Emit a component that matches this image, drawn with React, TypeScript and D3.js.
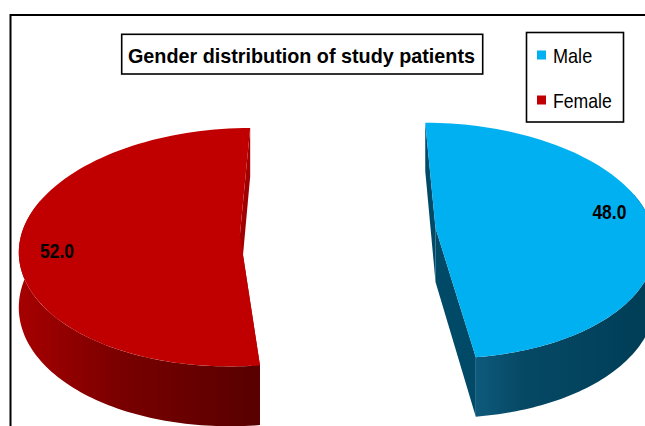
import React from 'react';
import * as d3 from 'd3';

// chart data
const categories = ['Male', 'Female'];
const values = [48.0, 52.0];
const colors = ['#00B0F0', '#C00000'];
const sideLight = ['#0E5A7C', '#A60000'];
const sideDark = ['#003D56', '#580000'];
const edgeColors = ['#004A68', '#A20000'];
const chartTitle = 'Gender distribution of study patients';

const W = 645;
const H = 426;

// fake 3D projection settings
const R = 218;
const cx = 338;
const cy = 231.4;
const tilt = 0.5436;
const persp = 0.105 / R;
const explode = 98;
const depth = 54;
const labelShift = -6 * Math.PI / 180;

const font = "'Liberation Sans Narrow', 'Arial Narrow', 'Liberation Sans', sans-serif";

const project = (u: number, v: number, z: number): [number, number] => {
  const s = 1 + persp * v;
  return [cx + u * s, cy + (tilt * v + z) * s];
};

const line = d3.line<[number, number]>().x(d => d[0]).y(d => d[1]);
const poly = (pts: [number, number][]) => line(pts) + 'Z';

const App = () => {
  const pie = d3.pie<number>().sort(null).startAngle(0).endAngle(2 * Math.PI);
  const arcs = pie(values);

  const slices = arcs.map((a, i) => {
    const mid = (a.startAngle + a.endAngle) / 2;
    const cu = explode * Math.sin(mid);
    const cv = -explode * Math.cos(mid);
    const rim = (t: number, z: number, r = R) => project(cu + r * Math.sin(t), cv - r * Math.cos(t), z);
    const center = (z: number) => project(cu, cv, z);
    const sample = (t0: number, t1: number, n = 90) => d3.range(n + 1).map(j => t0 + (t1 - t0) * j / n);

    const top = [center(0), ...sample(a.startAngle, a.endAngle).map(t => rim(t, 0))];

    const radial = [a.startAngle, a.endAngle].map(e => [center(0), rim(e, 0), rim(e, depth), center(depth)] as [number, number][]);

    // only the front part of the rim side is visible
    const s0 = Math.max(a.startAngle, Math.PI / 2 - 0.3);
    const s1 = Math.min(a.endAngle, 1.5 * Math.PI + 0.3);
    let side: [number, number][] = [];
    if (s1 > s0) {
      const ts = sample(s0, s1);
      side = [...ts.map(t => rim(t, 0)), ...ts.slice().reverse().map(t => rim(t, depth))];
    }
    const xs = side.map(p => p[0]);
    const label = rim(mid + labelShift, 0, R * 0.83);
    return { i, top, radial, side, gx0: d3.min(xs) ?? 0, gx1: d3.max(xs) ?? 1, label, value: a.data };
  });

  return (
    <svg width={W} height={H} style={{ position: 'absolute', left: 0, top: 0, background: '#fff' }}>
      <defs>
        {slices.map(s => (
          <linearGradient key={s.i} id={`side-${s.i}`} gradientUnits="userSpaceOnUse" x1={s.gx0} x2={s.gx1} y1={0} y2={0}>
            <stop offset="0%" stopColor={sideLight[s.i]} />
            <stop offset={s.i === 0 ? '25%' : '45%'} stopColor={d3.interpolateRgb(sideLight[s.i], sideDark[s.i])(0.6)} />
            <stop offset="100%" stopColor={sideDark[s.i]} />
          </linearGradient>
        ))}
      </defs>

      {slices.map(s => (
        <g key={s.i}>
          {s.radial.map((r, j) => (
            <path key={j} d={poly(r)} fill={edgeColors[s.i]} />
          ))}
          {s.side.length > 0 && <path d={poly(s.side)} fill={`url(#side-${s.i})`} />}
          <path d={poly(s.top)} fill={colors[s.i]} />
          <text x={s.label[0]} y={s.label[1]} dy="0.35em" textAnchor="middle"
            fontFamily={font} fontWeight="bold" fontSize={20} fill="#000"
            textLength={34} lengthAdjust="spacingAndGlyphs">
            {d3.format('.1f')(s.value)}
          </text>
        </g>
      ))}

      {/* chart frame */}
      <rect x={10.5} y={15} width={700} height={500} fill="none" stroke="#000" strokeWidth={2} />

      {/* title */}
      <rect x={121.7} y={34.3} width={361} height={39.7} fill="#fff" stroke="#000" strokeWidth={1.6} />
      <text x={301.5} y={62.5} textAnchor="middle" fontFamily={font}
        fontWeight="bold" fontSize={21} textLength={347} lengthAdjust="spacingAndGlyphs">
        {chartTitle}
      </text>

      {/* legend */}
      <rect x={526.5} y={32.5} width={97} height={89.5} fill="#fff" stroke="#000" strokeWidth={1.6} />
      {categories.map((c, i) => (
        <g key={c} transform={`translate(537,${50.5 + i * 45})`}>
          <rect width={9} height={9} fill={colors[i]} />
          <text x={16} y={12} fontFamily={font} fontSize={21} fill="#000"
            textLength={c.length * 9.8} lengthAdjust="spacingAndGlyphs">
            {c}
          </text>
        </g>
      ))}
    </svg>
  );
};

export default App;
